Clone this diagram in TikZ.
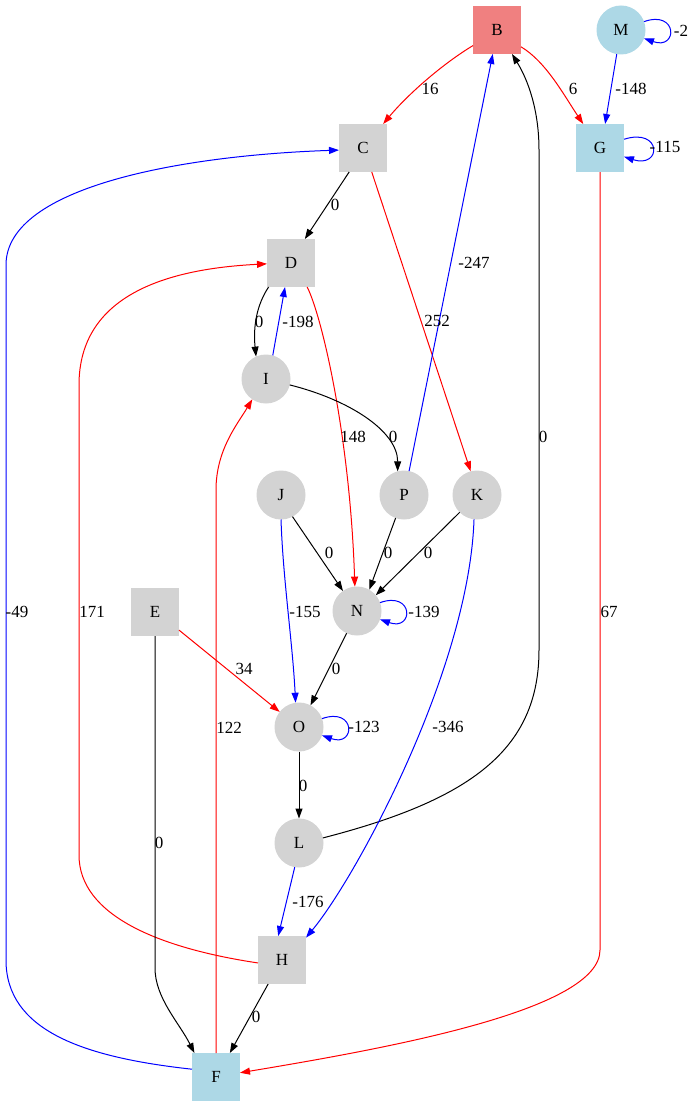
\documentclass[tikz,border=0pt]{standalone}
\usepackage{fontspec}
\setmainfont{Liberation Serif}
\usetikzlibrary{arrows.meta}
\definecolor{nodegray}{HTML}{D3D3D3}
\definecolor{nodeblue}{HTML}{ADD8E6}
\definecolor{nodecoral}{HTML}{F08080}
\definecolor{edgered}{HTML}{FF0000}
\definecolor{edgeblue}{HTML}{0000FF}
\begin{document}
\begin{tikzpicture}[x=1pt,y=-1pt,
  every node/.style={font=\fontsize{17}{19}\selectfont},
  sq/.style={rectangle, minimum width=48pt, minimum height=48pt, inner sep=0pt, outer sep=0pt},
  rd/.style={circle, minimum size=49pt, inner sep=0pt, outer sep=0pt},
  gr/.style={fill=nodegray},
  bl/.style={fill=nodeblue},
  co/.style={fill=nodecoral},
  link/.style={line width=1pt, -{Triangle[length=10pt,width=7pt]}},
  rl/.style={link, draw=edgered, color=edgered},
  bll/.style={link, draw=edgeblue, color=edgeblue},
  kl/.style={link, draw=black},
  lbl/.style={inner sep=0pt, outer sep=0pt}
]
% canvas
\fill[white] (0,0) rectangle (693,1105);
\useasboundingbox (0,0) rectangle (693,1105);

% vertices
\node[sq,co] (B) at (497,30) {B};
\node[rd,bl] (M) at (621,30) {M};
\node[sq,gr] (C) at (363,148) {C};
\node[sq,bl] (G) at (600,148) {G};
\node[sq,gr] (D) at (291,263) {D};
\node[rd,gr] (I) at (266,379) {I};
\node[rd,gr] (J) at (281,495) {J};
\node[rd,gr] (P) at (404,495) {P};
\node[rd,gr] (K) at (477,495) {K};
\node[sq,gr] (E) at (155,612) {E};
\node[rd,gr] (N) at (357,611) {N};
\node[rd,gr] (O) at (299,727) {O};
\node[rd,gr] (L) at (299,843) {L};
\node[sq,gr] (H) at (282,960) {H};
\node[sq,bl] (F) at (216,1077) {F};

% edges
\draw[rl] (B.213) .. controls +(-30,18) and +(25,-30) .. (C.50);
\draw[rl] (B.-35) .. controls +(25,15) and +(-20,-30) .. (G.125);
\draw[bll] (M.-100) -- (G.78);
\draw[bll] (M.20) .. controls +(34,-12) and +(34,12) .. (M.-20);
\draw[bll] (G.20) .. controls +(38,-12) and +(38,12) .. (G.-20);
\draw[kl] (C.-120) -- (D.60);
\draw[rl] (C.-70) -- (K.105);
\draw[bll] (P.78) -- (B.-100);
\draw[kl] (L.12) .. controls (470,800) and (539,750) .. (539,650)
  -- (539,150) .. controls (539,110) and (528,80) .. (B.-58);
\draw[bll] (F.162) .. controls +(-110,-12) and +(0,70) .. (6,960)
  -- (6,265) .. controls +(0,-80) and +(-150,5) .. (C.185);
\draw[rl] (G.south) -- (600,950) .. controls +(0,60) and +(150,-25) .. (F.10);
\draw[kl] (D.-133) .. controls +(-12,18) and +(-3,-30) .. (I.114);
\draw[bll] (I.74) -- (D.-104);
\draw[rl] (D.-56) .. controls +(15,30) and +(-5,-150) .. (N.95);
\draw[kl] (I.-14) .. controls +(60,15) and +(0,-40) .. (P.105);
\draw[rl] (H.187) .. controls +(-100,-15) and +(0,60) .. (79,855)
  -- (79,385) .. controls +(0,-90) and +(-100,5) .. (D.182);
\draw[rl] (F.north) -- (216,490) .. controls +(0,-40) and +(-15,25) .. (I.-124);
\draw[kl] (J.-62) -- (N.125);
\draw[kl] (P.-110) -- (N.60);
\draw[kl] (K.-135) -- (N.40);
\draw[bll] (J.-90) .. controls +(2,60) and +(-3,-60) .. (O.98);
\draw[bll] (N.20) .. controls +(34,-12) and +(34,12) .. (N.-20);
\draw[kl] (N.-115) -- (O.62);
\draw[rl] (E.-37) -- (O.142);
\draw[kl] (E.south) -- (155,968) .. controls +(0,30) and +(-15,-30) .. (F.132);
\draw[bll] (O.20) .. controls +(34,-12) and +(34,12) .. (O.-20);
\draw[kl] (O.south) -- (L.north);
\draw[bll] (K.-97) .. controls +(-5,150) and +(50,-60) .. (H.43);
\draw[bll] (L.-100) -- (H.99);
\draw[kl] (H.-120) -- (F.60);

% edge weights
\node[lbl] (wBC) at (430,89) {16};
\node[lbl] (wBG) at (573,89) {6};
\node[lbl] (wMG) at (631,89) {-148};
\node[lbl] (wMM) at (681,31) {-2};
\node[lbl] (wGG) at (665,147) {-115};
\node[lbl] (wCD) at (335,205) {0};
\node[lbl] (wDI) at (259,322) {0};
\node[lbl] (wID) at (298,322) {-198};
\node[lbl] (wCK) at (437,321) {252};
\node[lbl] (wPB) at (474,263) {-247};
\node[lbl] (wLB) at (543,437) {0};
\node[lbl] (wIP) at (393,437) {0};
\node[lbl] (wDN) at (353,437) {148};
\node[lbl] (wJN) at (329,553) {0};
\node[lbl] (wPN) at (388,553) {0};
\node[lbl] (wKN) at (428,553) {0};
\node[lbl] (wJO) at (305,612) {-155};
\node[lbl] (wNN) at (424,612) {-139};
\node[lbl] (wNO) at (336,669) {0};
\node[lbl] (wEO) at (244,669) {34};
\node[lbl] (wOO) at (364,727) {-123};
\node[lbl] (wKH) at (448,727) {-346};
\node[lbl] (wFI) at (229,728) {122};
\node[lbl] (wHD) at (92,612) {171};
\node[lbl] (wFC) at (17,612) {-49};
\node[lbl] (wGF) at (609,612) {67};
\node[lbl] (wEF) at (159,843) {0};
\node[lbl] (wOL) at (303,786) {0};
\node[lbl] (wLH) at (308,902) {-176};
\node[lbl] (wHF) at (256,1017) {0};
\end{tikzpicture}
\end{document}
